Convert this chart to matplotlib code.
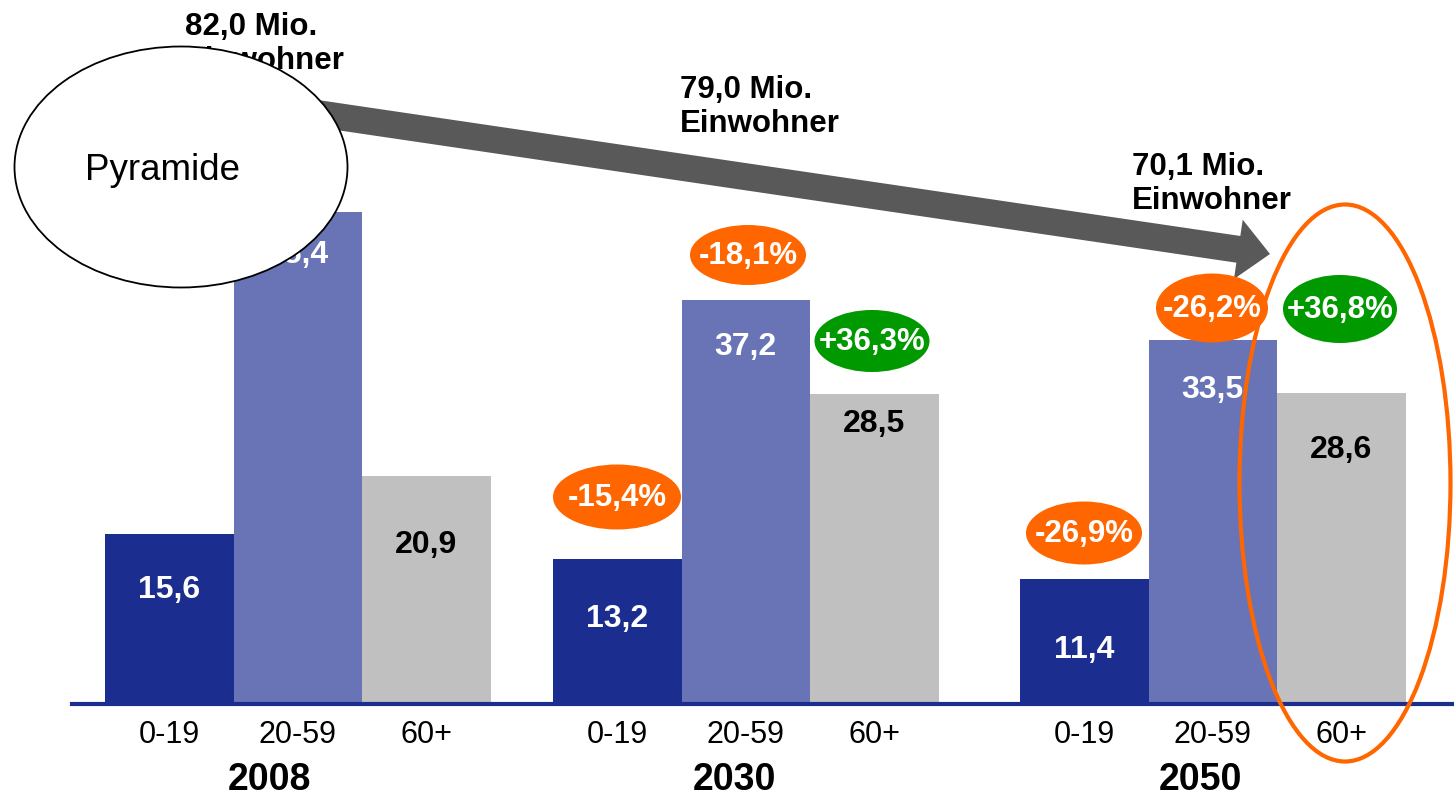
import matplotlib.pyplot as plt
from matplotlib.patches import Ellipse, FancyArrow

plt.rcParams['font.family'] = ['Liberation Sans', 'DejaVu Sans']

# Bevölkerung in Mio. je Altersgruppe
years = ['2008', '2030', '2050']
ages = ['0-19', '20-59', '60+']
young = [15.6, 13.2, 11.4]
middle = [45.4, 37.2, 33.5]
old = [20.9, 28.5, 28.6]
totals = ['82,0', '79,0', '70,1']
# Veränderung gegenüber 2008
chg_young = [None, '-15,4%', '-26,9%']
chg_middle = [None, '-18,1%', '-26,2%']
chg_old = [None, '+36,3%', '+36,8%']

colors = ['#1b2e8f', '#6874b6', '#c0c0c0']
text_colors = ['white', 'white', 'black']
orange = '#ff6600'
green = '#009900'

W, H = 1454, 798
fig = plt.figure(figsize=(W / 100, H / 100), dpi=100)

# bar axes: x in pixels, y in Mio.
scale = 10.8
base = 702
ax = fig.add_axes([0, 0, 1, 1])
ax.set_xlim(0, W)
ax.set_ylim(-(H - base) / scale, base / scale)
ax.patch.set_visible(False)

group_left = [105, 553, 1020]
bw = 128.5
series = [young, middle, old]

tick_x, tick_lab = [], []
bar_x = []
for i, vals in enumerate(series):
    xs = [g + (i + 0.5) * bw for g in group_left]
    ax.bar(xs, vals, width=bw, color=colors[i], linewidth=0, zorder=2)
    bar_x.append(xs)
    tick_x += xs
    tick_lab += [ages[i]] * len(xs)

for s in ['top', 'left', 'right']:
    ax.spines[s].set_visible(False)
ax.spines['bottom'].set_position(('data', -2 / scale))
ax.spines['bottom'].set_bounds(72, W)
ax.spines['bottom'].set_color('#1b2e8f')
ax.spines['bottom'].set_linewidth(3)
ax.spines['bottom'].set_zorder(3)
ax.set_yticks([])
ax.set_xticks(tick_x, tick_lab, fontsize=22)
ax.tick_params(axis='x', length=0, pad=11.5)

# overlay in pixel coordinates for the annotations
ov = fig.add_axes([0, 0, 1, 1], zorder=5)
ov.set_xlim(0, W)
ov.set_ylim(H, 0)
ov.axis('off')
ov.patch.set_visible(False)

# values inside the bars
label_y = [[590, 619, 650], [255, 347, 390], [545, 424, 450]]
for i, vals in enumerate(series):
    for j, v in enumerate(vals):
        ov.text(bar_x[i][j], label_y[i][j], f'{v:.1f}'.replace('.', ','),
                ha='center', va='center', fontsize=23, fontweight='bold',
                color=text_colors[i], zorder=2)

# year labels
year_x = [269, 734, 1200]
for x, yr in zip(year_x, years):
    ov.text(x, 780, yr, ha='center', va='center', fontsize=27, fontweight='bold')

# population totals
total_pos = [(185, 12), (680, 75), (1132, 152)]
for (x, y), t in zip(total_pos, totals):
    ov.text(x, y, f'{t} Mio.\nEinwohner', ha='left', va='top', fontsize=22.5,
            fontweight='bold', linespacing=1.17, zorder=1)

# trend arrow
x0, y0, x1, y1 = 300, 111, 1270, 254
ov.add_patch(FancyArrow(x0, y0, x1 - x0, y1 - y0, width=27, head_width=60,
                        head_length=32, length_includes_head=True,
                        color='#595959', linewidth=0, zorder=3))

# change badges
badges = [
    (617, 497, 128, 65, chg_young[1], orange),
    (748, 255, 116, 60, chg_middle[1], orange),
    (872, 341, 115, 62, chg_old[1], green),
    (1084, 533, 116, 63, chg_young[2], orange),
    (1212, 308, 112, 69, chg_middle[2], orange),
    (1340, 309, 114, 68, chg_old[2], green),
]
for x, y, w, h, t, c in badges:
    ov.add_patch(Ellipse((x, y), w, h, facecolor=c, edgecolor='none', zorder=4))
    ov.text(x, y + 1, t, ha='center', va='center', fontsize=22.5,
            fontweight='bold', color='white', zorder=5)

# highlight of the 60+ group in 2050
ov.add_patch(Ellipse((1345, 483), 211, 557, fill=False, edgecolor=orange,
                     linewidth=3, zorder=6))

# "Pyramide" bubble
ov.add_patch(Ellipse((181, 167), 333, 241, facecolor='white', edgecolor='black',
                     linewidth=1.3, zorder=7))
ov.text(162, 170, 'Pyramide', ha='center', va='center', fontsize=26.5, zorder=8)

fig.savefig('out.png', dpi=100)
